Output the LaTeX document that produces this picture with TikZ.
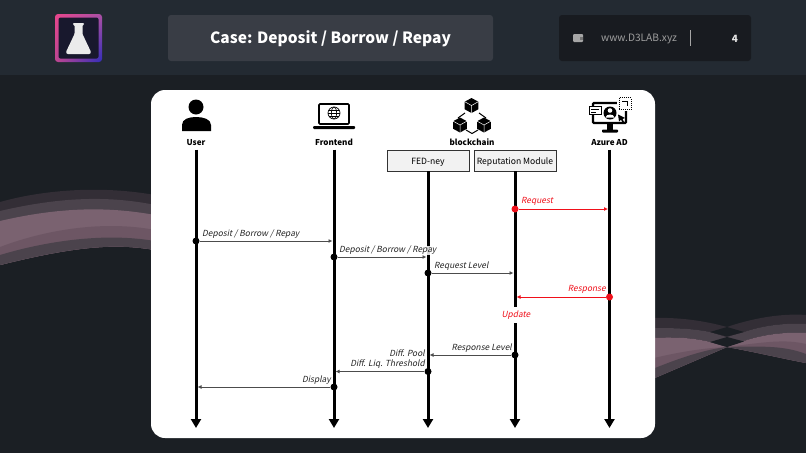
\documentclass[tikz,border=0pt]{standalone}
\usepackage{fontspec}
\setmainfont{Noto Sans CJK KR}[AutoFakeSlant=0.2]
\usetikzlibrary{arrows.meta,shadings}
\definecolor{slidebg}{HTML}{1B1F24}
\definecolor{headbg}{HTML}{232A32}
\definecolor{titlebg}{HTML}{393D45}
\definecolor{sitebg}{HTML}{181B20}
\definecolor{boxbg}{HTML}{F2F2F2}
\definecolor{msgred}{HTML}{F0101A}
\definecolor{waveA}{HTML}{332E36}
\definecolor{waveB}{HTML}{4B434C}
\definecolor{waveC}{HTML}{7A6270}
\definecolor{waveD}{HTML}{6D5664}
\definecolor{logoUL}{HTML}{E8468C}
\definecolor{logoUR}{HTML}{AA50A5}
\definecolor{logoLL}{HTML}{BE4691}
\definecolor{logoLR}{HTML}{322DB9}
\definecolor{logobg}{HTML}{18182D}
\tikzset{
	lifeline/.style={line width=3pt, -{Triangle[length=9pt,width=10pt]}},
	msg/.style={line width=1pt, black!70, shorten >=1.5pt, -{Latex[length=4pt,width=4pt]}},
	redmsg/.style={line width=1pt, msgred, shorten >=1.5pt, -{Latex[length=4pt,width=4pt]}},
	dotb/.style={circle, fill=black, inner sep=0pt, minimum size=7pt},
	dotr/.style={circle, fill=msgred, inner sep=0pt, minimum size=7pt},
	actor/.style={font=\fontsize{8.1}{10}\selectfont\bfseries, inner sep=0pt, yshift=-0.5pt},
	modbox/.style={draw=black!80, fill=boxbg, line width=0.9pt, minimum width=82pt, minimum height=21pt, inner sep=0pt, text height=7.5pt, text depth=0pt, font=\fontsize{8.6}{10}\selectfont},
	msgtxt/.style={font=\fontsize{8.4}{10}\selectfont\itshape, inner sep=0pt, text=black!85, yshift=-1.3pt},
	redtxt/.style={font=\fontsize{8.4}{10}\selectfont\itshape, inner sep=0pt, text=msgred, yshift=-1.3pt}
}
\newcommand{\blockcube}[2]{
	\fill[black] (#1,#2-7.5) -- (#1+6.8,#2-3.8) -- (#1+6.8,#2+3.8) -- (#1,#2+7.5) -- (#1-6.8,#2+3.8) -- (#1-6.8,#2-3.8) -- cycle;
	\draw[white, line width=0.5pt] (#1-6.8,#2-3.8) -- (#1,#2) -- (#1+6.8,#2-3.8) (#1,#2) -- (#1,#2+7.5);
}
\begin{document}
\begin{tikzpicture}[x=1pt,y=-1pt]
	\useasboundingbox (0,0) rectangle (806,453);
	\fill[slidebg] (0,0) rectangle (806,453);
	\fill[headbg] (0,0) rectangle (806,75);

	\fill[waveA] (0,202) .. controls (50,188) and (110,186) .. (160,196) -- (160,251) .. controls (120,243) and (80,245) .. (0,265) -- cycle;
	\fill[waveB] (0,211) .. controls (60,197) and (110,195) .. (160,206) -- (160,251) .. controls (120,243) and (80,245) .. (0,265) -- cycle;
	\fill[waveC] (0,221) .. controls (60,207) and (110,206) .. (160,216) -- (160,251) .. controls (120,243) and (80,245) .. (0,265) -- cycle;
	\fill[waveD] (0,247) .. controls (50,228) and (110,220) .. (160,231) -- (160,251) .. controls (120,243) and (80,245) .. (0,265) -- cycle;
	\fill[waveB] (0,255) .. controls (50,240) and (110,232) .. (160,242) -- (160,251) .. controls (120,243) and (80,245) .. (0,265) -- cycle;

	\fill[waveA] (650,318) .. controls (680,317) and (705,321) .. (727,327) -- (744,332) -- (727,337) -- (710,332) .. controls (690,328) and (670,328) .. (650,328) -- cycle;
	\fill[waveB] (650,328) .. controls (670,328) and (690,328) .. (710,332) -- (727,337) -- (744,341) -- (727,347) -- (710,342) .. controls (690,337) and (670,337) .. (650,338) -- cycle;
	\fill[waveC] (650,338) .. controls (670,337) and (690,337) .. (710,342) -- (727,347) -- (650,380) -- cycle;
	\fill[waveD] (650,359) .. controls (670,354) and (700,348) .. (727,347) -- (650,380) -- cycle;
	\fill[waveB] (650,370) .. controls (670,362) and (700,350) .. (727,347) -- (650,380) -- cycle;
	\fill[waveA] (806,315) .. controls (780,313) and (750,319) .. (727,327) -- (710,332) -- (727,337) -- (744,332) .. controls (765,325) and (785,323) .. (806,324) -- cycle;
	\fill[waveB] (806,324) .. controls (785,323) and (765,325) .. (744,332) -- (727,337) -- (710,342) -- (727,347) -- (744,341) .. controls (765,334) and (785,332) .. (806,333) -- cycle;
	\fill[waveC] (806,333) .. controls (785,332) and (765,334) .. (744,341) -- (727,347) .. controls (755,352) and (780,358) .. (806,363) -- cycle;
	\fill[waveD] (806,344) .. controls (785,339) and (765,342) .. (727,347) .. controls (755,352) and (780,358) .. (806,363) -- cycle;
	\fill[waveB] (806,354) .. controls (785,346) and (765,346) .. (727,347) .. controls (755,352) and (780,358) .. (806,363) -- cycle;
	\fill[slidebg] (727,327) -- (744,332) -- (727,336.5) -- (710,332) -- cycle;
	\fill[slidebg] (727,337) -- (744,341.5) -- (727,347) -- (710,342) -- cycle;

	\fill[white, rounded corners=14pt] (151,90) rectangle (655,438);

	\shade[rounded corners=3pt, upper left=logoUL, upper right=logoUR, lower left=logoLL, lower right=logoLR] (55,14) rectangle (102,62);
	\fill[logobg, rounded corners=2pt] (58.5,17.5) rectangle (98.5,58.5);
	\fill[white!92!black, rounded corners=0.8pt] (73,23) -- (84,23) -- (84,25) -- (82.5,25) -- (82.5,34) -- (91,52) -- (90,54) -- (67,54) -- (66,52) -- (74.5,34) -- (74.5,25) -- (73,25) -- cycle;

	\fill[titlebg, rounded corners=3pt] (168,15) rectangle (493,61);
	\node[text=white, font=\fontsize{15.5}{20}\selectfont\bfseries, inner sep=0pt] (title) at (330.5,39) {Case: Deposit / Borrow / Repay};
	\fill[sitebg, rounded corners=3pt] (559,15) rectangle (751,61);
	\fill[white!65!black, rounded corners=1pt] (573,34) rectangle (583,42);
	\fill[black!55] (580,36.5) rectangle (583,39.5);
	\node[text=white!62!black, font=\fontsize{10.2}{12}\selectfont, inner sep=0pt] (site) at (639,39.3) {www.D3LAB.xyz};
	\draw[white!65!black, line width=0.8pt] (690,30) -- (690,46);
	\node[text=white!90!black, font=\fontsize{10}{12}\selectfont\bfseries, inner sep=0pt] (page) at (735,38.8) {4};

	\fill[black] (196,107) circle (7.5);
	\fill[black] (182,131) -- (182,125) .. controls (182,119) and (189,117) .. (196,117) .. controls (203,117) and (211,119) .. (211,125) -- (211,131) -- cycle;

	\draw[black, line width=1.6pt, rounded corners=1pt] (319,104) rectangle (349,124);
	\fill[black, rounded corners=1pt] (313,126) rectangle (355,129);
	\draw[black, line width=0.7pt] (334,113) circle (6);
	\draw[black, line width=0.6pt] (334,113) ellipse (2.6 and 6);
	\draw[black, line width=0.6pt] (328,113) -- (340,113) (329,110) -- (339,110) (329,116) -- (339,116);

	\draw[black, line width=1pt] (465,113) -- (458,118) (479,113) -- (486,118) (466,130) -- (472,133.5) -- (478,130);
	\blockcube{471.5}{105.5}
	\blockcube{460}{125}
	\blockcube{484}{125}

	\draw[black, line width=2.2pt, rounded corners=1pt] (593,103) rectangle (626,123);
	\fill[white] (617,96) rectangle (632,111);
	\draw[black, line width=1pt, dash pattern=on 1pt off 1pt] (619,97.5) rectangle (631,109.5);
	\draw[black, line width=1pt] (622,101) -- (627,101) -- (627,106);
	\fill[black] (607,123) rectangle (613,130);
	\fill[black, rounded corners=0.8pt] (602,129.5) rectangle (618,132.5);
	\draw[black, fill=white, line width=1pt] (589,106) rectangle (601,114.5);
	\draw[black, line width=0.7pt] (591,109) -- (599,109) (591,112) -- (596,112);
	\fill[black] (610,113) circle (6.5);
	\fill[white] (610,110.5) circle (2.3);
	\fill[white] (605.5,117.5) .. controls (606,113.5) and (614,113.5) .. (614.5,117.5) -- cycle;
	\fill[black] (618,114.5) -- (625,118) -- (622.5,119) -- (624,122) -- (622.5,122.5) -- (621,119.8) -- (619,121.5) -- cycle;

	\node[actor] (user) at (196,142) {User};
	\node[actor] (frontend) at (334,142) {Frontend};
	\node[actor] (blockchain) at (472,142) {blockchain};
	\node[actor] (azure) at (609.5,142) {Azure AD};
	\node[modbox] (fedney) at (428,160.5) {FED-ney};
	\node[modbox] (repmod) at (515,160.5) {Reputation Module};

	\coordinate (userend) at (196,428);
	\coordinate (frontendend) at (334,428);
	\coordinate (fedneyend) at (428,428);
	\coordinate (repmodend) at (515,428);
	\coordinate (azureend) at (609.5,428);
	\coordinate (usertop) at (196,149.5);
	\coordinate (frontendtop) at (334,149.5);
	\coordinate (azuretop) at (609.5,149.5);
	\draw[lifeline] (usertop) -- (userend);
	\draw[lifeline] (frontendtop) -- (frontendend);
	\draw[lifeline] (fedney.south) -- (fedneyend);
	\draw[lifeline] (repmod.south) -- (repmodend);
	\draw[lifeline] (azuretop) -- (azureend);

	\node[dotr] (reqa) at (515,209) {};
	\coordinate (reqb) at (609.5,209);
	\draw[redmsg] (reqa) -- (reqb);
	\node[redtxt, anchor=west] (reqt) at (521,200.5) {Request};

	\node[dotb] (depa) at (196,241) {};
	\coordinate (depb) at (334,241);
	\draw[msg] (depa) -- (depb);
	\node[msgtxt, anchor=west] (dept) at (202,233) {Deposit / Borrow / Repay};

	\node[dotb] (depc) at (334,257) {};
	\coordinate (depd) at (428,257);
	\draw[msg] (depc) -- (depd);
	\node[msgtxt, anchor=west, fill=white, fill opacity=0.85, text opacity=1] (depu) at (339,249) {Deposit / Borrow / Repay};

	\node[dotb] (lvla) at (428,273) {};
	\coordinate (lvlb) at (515,273);
	\draw[msg] (lvla) -- (lvlb);
	\node[msgtxt, anchor=west] (lvlt) at (434,265) {Request Level};

	\node[dotr] (resa) at (609.5,297) {};
	\coordinate (resb) at (515,297);
	\draw[redmsg] (resa) -- (resb);
	\node[redtxt, anchor=east] (rest) at (606,288.5) {Response};

	\node[redtxt, fill=white, minimum height=16pt] (upd) at (516,314) {Update};

	\node[dotb] (rlva) at (515,355) {};
	\coordinate (rlvb) at (428,355);
	\draw[msg] (rlva) -- (rlvb);
	\node[msgtxt, anchor=east] (rlvt) at (512,347) {Response Level};
	\node[msgtxt, anchor=east] (poolt) at (425,352) {Diff. Pool};

	\node[dotb] (thra) at (428,371.5) {};
	\coordinate (thrb) at (334,371.5);
	\draw[msg] (thra) -- (thrb);
	\node[msgtxt, anchor=east] (thrt) at (425,363) {Diff. Liq. Threshold};

	\node[dotb] (disa) at (334,387) {};
	\coordinate (disb) at (196,387);
	\draw[msg] (disa) -- (disb);
	\node[msgtxt, anchor=east] (dist) at (331,379) {Display};
\end{tikzpicture}
\end{document}
